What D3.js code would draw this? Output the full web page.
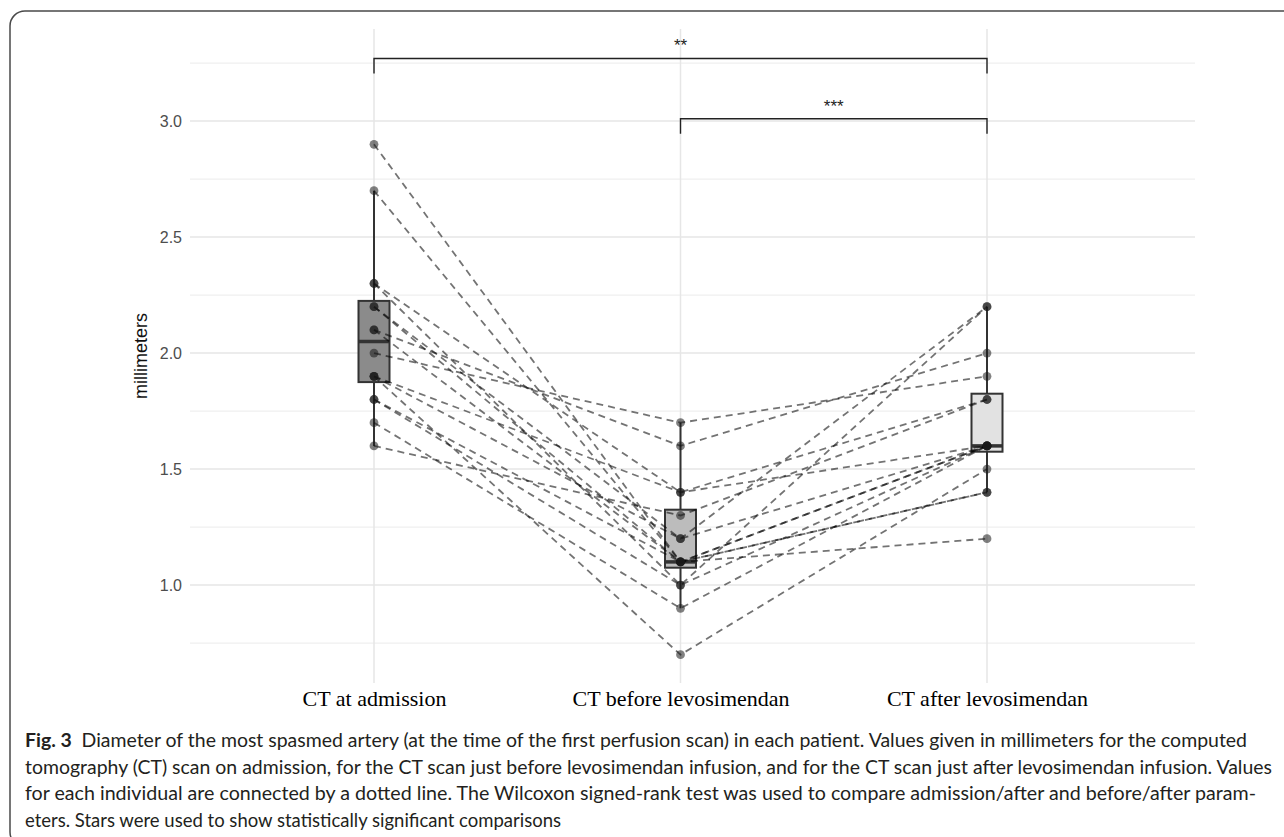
<!DOCTYPE html>
<html>
<head>
<meta charset="utf-8">
<script src="https://cdn.jsdelivr.net/npm/d3@7/dist/d3.min.js"></script>
<style>
  body { margin: 0; background: #fff; }
  svg { display: block; }
</style>
</head>
<body>
<div id="chart"></div>
<script>
var groups = ['CT at admission', 'CT before levosimendan', 'CT after levosimendan']

// one entry per patient, same order in the three arrays
var admission = [2.9, 2.7, 2.3, 2.3, 2.2, 2.2, 2.1, 2.1, 2.0, 1.9, 1.9, 1.9, 1.8, 1.8, 1.7, 1.6]
var before = [1.1, 1.1, 1.4, 1.0, 1.1, 1.2, 1.1, 1.6, 1.7, 0.7, 1.4, 1.2, 1.1, 1.0, 0.9, 1.3]
var after = [1.6, 1.2, 1.8, 2.2, 1.4, 2.2, 1.6, 2.0, 1.9, 1.5, 1.6, 1.6, 1.4, 1.6, 1.6, 1.8]

var yTicks = [1.0, 1.5, 2.0, 2.5, 3.0]
var yMinorTicks = [0.75, 1.25, 1.75, 2.25, 2.75, 3.25]

var compFrom = ['CT at admission', 'CT before levosimendan']
var compTo = ['CT after levosimendan', 'CT after levosimendan']
var compLabels = ['**', '***']
var compLevels = [3.27, 3.01]

var captionLabel = 'Fig. 3'
var captionLines = [
  'Diameter of the most spasmed artery (at the time of the first perfusion scan) in each patient. Values given in millimeters for the computed',
  'tomography (CT) scan on admission, for the CT scan just before levosimendan infusion, and for the CT scan just after levosimendan infusion. Values',
  'for each individual are connected by a dotted line. The Wilcoxon signed-rank test was used to compare admission/after and before/after param-',
  'eters. Stars were used to show statistically significant comparisons'
]

var W = 1284
var H = 837
var panel = {left: 190, right: 1195, top: 29, bottom: 683}
var boxFills = ['#8b8b8b', '#bcbcbc', '#e2e2e2']
var series = [admission, before, after]

var svg = d3.select('#chart').append('svg')
  .attr('width', W)
  .attr('height', H)
  .style('font-family', 'Liberation Sans, Arial, sans-serif')

// rounded frame round the figure, cut by the page edges
svg.append('rect')
  .attr('x', 10).attr('y', 11)
  .attr('width', 1320).attr('height', 836)
  .attr('rx', 15).attr('ry', 15)
  .attr('fill', 'none')
  .attr('stroke', '#4a4a4a')
  .attr('stroke-width', 1.5)

var x = d3.scalePoint().domain(groups).range([374, 987])
var y = d3.scaleLinear().domain([0.578, 3.397]).range([panel.bottom, panel.top])

// grid
var grid = svg.append('g')
grid.selectAll('line.minor')
  .data(yMinorTicks)
  .enter().append('line')
  .attr('class', 'minor')
  .attr('x1', panel.left).attr('x2', panel.right)
  .attr('y1', d => y(d)).attr('y2', d => y(d))
  .attr('stroke', '#efefef')
  .attr('stroke-width', 1.1)
grid.selectAll('line.major')
  .data(yTicks)
  .enter().append('line')
  .attr('class', 'major')
  .attr('x1', panel.left).attr('x2', panel.right)
  .attr('y1', d => y(d)).attr('y2', d => y(d))
  .attr('stroke', '#e6e6e6')
  .attr('stroke-width', 1.5)
grid.selectAll('line.vert')
  .data(groups)
  .enter().append('line')
  .attr('class', 'vert')
  .attr('x1', d => x(d)).attr('x2', d => x(d))
  .attr('y1', panel.top).attr('y2', panel.bottom)
  .attr('stroke', '#e6e6e6')
  .attr('stroke-width', 1.5)

// y axis
var yAxis = d3.axisLeft(y)
  .tickValues(yTicks)
  .tickFormat(d3.format('.1f'))
  .tickSize(0)
  .tickPadding(8)
var ya = svg.append('g')
  .attr('transform', 'translate(' + panel.left + ',0)')
  .call(yAxis)
ya.select('.domain').remove()
ya.selectAll('text')
  .attr('fill', '#4d4d4d')
  .style('font-size', '16px')
  .style('font-family', 'Liberation Sans, Arial, sans-serif')

svg.append('text')
  .attr('transform', 'translate(147,' + ((panel.top + panel.bottom) / 2) + ') rotate(-90)')
  .attr('text-anchor', 'middle')
  .style('font-size', '18px')
  .attr('fill', '#111')
  .text('millimeters')

// x axis
var xAxis = d3.axisBottom(x).tickSize(0).tickPadding(0)
var xa = svg.append('g')
  .attr('transform', 'translate(0,' + 706 + ')')
  .call(xAxis)
xa.select('.domain').remove()
xa.selectAll('text')
  .attr('dy', 0)
  .attr('y', 0)
  .attr('fill', '#000')
  .style('font-size', '22px')
  .style('font-family', 'Liberation Serif, Times New Roman, serif')

// R type-7 quantile, as used by ggplot's boxplot
function quantile7 (sorted, p) {
  var idx = (sorted.length - 1) * p
  var lo = Math.floor(idx)
  var hi = Math.ceil(idx)
  var h = idx - lo
  if (h === 0 || sorted[hi] === sorted[lo]) return sorted[lo]
  return (1 - h) * sorted[lo] + h * sorted[hi]
}

var stats = series.map(function (vals, i) {
  var s = vals.slice().sort(d3.ascending)
  var q1 = quantile7(s, 0.25)
  var med = quantile7(s, 0.5)
  var q3 = quantile7(s, 0.75)
  var iqr = q3 - q1
  var lo = d3.min(s.filter(v => v >= q1 - 1.5 * iqr))
  var hi = d3.max(s.filter(v => v <= q3 + 1.5 * iqr))
  return {group: groups[i], q1: q1, med: med, q3: q3, lo: lo, hi: hi, fill: boxFills[i]}
})

var boxW = 31
var boxes = svg.append('g').selectAll('g')
  .data(stats)
  .enter().append('g')

boxes.append('line')
  .attr('x1', d => x(d.group)).attr('x2', d => x(d.group))
  .attr('y1', d => y(d.hi)).attr('y2', d => y(d.q3))
  .attr('stroke', '#333').attr('stroke-width', 2)
boxes.append('line')
  .attr('x1', d => x(d.group)).attr('x2', d => x(d.group))
  .attr('y1', d => y(d.q1)).attr('y2', d => y(d.lo))
  .attr('stroke', '#333').attr('stroke-width', 2)
boxes.append('rect')
  .attr('x', d => x(d.group) - boxW / 2)
  .attr('width', boxW)
  .attr('y', d => y(d.q3))
  .attr('height', d => y(d.q1) - y(d.q3))
  .attr('fill', d => d.fill)
  .attr('stroke', '#333')
  .attr('stroke-width', 2)
boxes.append('line')
  .attr('x1', d => x(d.group) - boxW / 2).attr('x2', d => x(d.group) + boxW / 2)
  .attr('y1', d => y(d.med)).attr('y2', d => y(d.med))
  .attr('stroke', '#333').attr('stroke-width', 3.5)

// patient lines
var patients = admission.map(function (v, i) {
  return [admission[i], before[i], after[i]]
})
var line = d3.line()
  .x((d, i) => x(groups[i]))
  .y(d => y(d))

svg.append('g').selectAll('path')
  .data(patients)
  .enter().append('path')
  .attr('d', line)
  .attr('fill', 'none')
  .attr('stroke', '#000')
  .attr('stroke-opacity', 0.55)
  .attr('stroke-width', 1.8)
  .attr('stroke-dasharray', '7,5')

// points
var pts = []
series.forEach(function (vals, i) {
  vals.forEach(function (v) { pts.push({g: groups[i], v: v}) })
})
svg.append('g').selectAll('circle')
  .data(pts)
  .enter().append('circle')
  .attr('cx', d => x(d.g))
  .attr('cy', d => y(d.v))
  .attr('r', 4.4)
  .attr('fill', '#1a1a1a')
  .attr('fill-opacity', 0.55)

// significance brackets
var tip = 0.065
var br = svg.append('g').selectAll('g')
  .data(compLabels.map((l, i) => ({from: compFrom[i], to: compTo[i], label: l, level: compLevels[i]})))
  .enter().append('g')
br.append('path')
  .attr('d', d => 'M' + x(d.from) + ',' + y(d.level - tip) +
    'V' + y(d.level) + 'H' + x(d.to) + 'V' + y(d.level - tip))
  .attr('fill', 'none')
  .attr('stroke', '#222')
  .attr('stroke-width', 1.4)
br.append('text')
  .attr('x', d => (x(d.from) + x(d.to)) / 2)
  .attr('y', d => y(d.level) - 7)
  .attr('text-anchor', 'middle')
  .style('font-size', '17px')
  .attr('fill', '#222')
  .text(d => d.label)

// caption
var cap = svg.append('g')
  .style('font-family', 'Lato, Open Sans, sans-serif')
  .attr('fill', '#231f20')
var capBase = [747, 773.5, 800, 826.5]
var capEnds = [1247, 1272, 1256, null]
var capText = cap.selectAll('text')
  .data(captionLines)
  .enter().append('text')
  .attr('x', 25)
  .attr('y', (d, i) => capBase[i])
  .style('font-size', '18.5px')
capText.each(function (d, i) {
  var t = d3.select(this)
  if (i === 0) {
    t.append('tspan').style('font-weight', 'bold').text(captionLabel)
    t.append('tspan').text('\u2002' + d)
  } else {
    t.text(d)
  }
  if (capEnds[i]) {
    t.attr('textLength', capEnds[i] - 25).attr('lengthAdjust', 'spacingAndGlyphs')
  }
})
</script>
</body>
</html>
